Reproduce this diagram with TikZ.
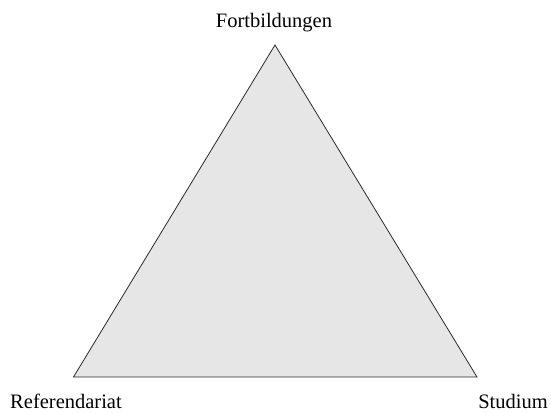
\documentclass[tikz,border=0pt]{standalone}
\usepackage{fontspec}
\setmainfont{Liberation Serif}
\usepackage{tikz}
\usepackage{xcolor}
\definecolor{areagray}{HTML}{E6E6E6}
\definecolor{edgeblack}{HTML}{2A2A2A}

\begin{document}
\begin{tikzpicture}[x=1pt, y=-1pt,
    cornerlabel/.style={font=\fontsize{20.5}{24}\selectfont, anchor=base, inner sep=0pt}]
    % Canvas
    \useasboundingbox (0,0) rectangle (551,412);

    % Corners
    \coordinate (fort) at (275,45);
    \coordinate (ref) at (73.5,377);
    \coordinate (stud) at (477,377);

    % Triangle
    \fill[areagray] (fort) -- (ref) -- (stud) -- cycle;
    \draw[edgeblack, line width=0.8pt, line join=miter] (fort) -- (ref) -- (stud) -- cycle;

    % Labels
    \node[cornerlabel] (fortlabel) at (274,28) {Fortbildungen};
    \node[cornerlabel] (reflabel) at (66,408) {Referendariat};
    \node[cornerlabel] (studlabel) at (513,408) {Studium};
\end{tikzpicture}
\end{document}
